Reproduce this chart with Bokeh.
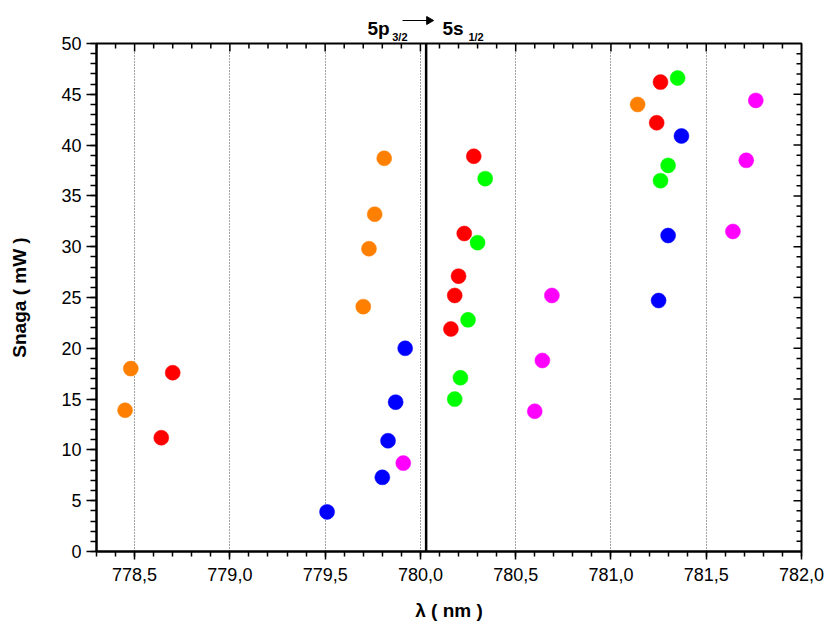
import math
from bokeh.plotting import figure
from bokeh.layouts import column
from bokeh.models import Range1d, FixedTicker, Span, CustomJSTickFormatter
from bokeh.core.properties import value
from bokeh.embed import file_html
from bokeh.resources import INLINE

# ---- data ----
orange_x = [778.45, 778.48, 779.70, 779.73, 779.76, 779.81, 781.14]
orange_y = [13.9, 18.0, 24.1, 29.8, 33.2, 38.7, 44.0]
red_x = [778.64, 778.70, 780.16, 780.18, 780.20, 780.23, 780.28, 781.24, 781.26]
red_y = [11.2, 17.6, 21.9, 25.2, 27.1, 31.3, 38.9, 42.2, 46.2]
green_x = [780.18, 780.21, 780.25, 780.30, 780.34, 781.26, 781.30, 781.35]
green_y = [15.0, 17.1, 22.8, 30.4, 36.7, 36.5, 38.0, 46.6]
blue_x = [779.51, 779.80, 779.83, 779.87, 779.92, 781.25, 781.30, 781.37]
blue_y = [3.9, 7.3, 10.9, 14.7, 20.0, 24.7, 31.1, 40.9]
magenta_x = [779.91, 780.60, 780.64, 780.69, 781.64, 781.71, 781.76]
magenta_y = [8.7, 13.8, 18.8, 25.2, 31.5, 38.5, 44.4]

x_major = [778.5, 779.0, 779.5, 780.0, 780.5, 781.0, 781.5, 782.0]
y_major = [0, 5, 10, 15, 20, 25, 30, 35, 40, 45, 50]
x_minor = [round(778.3 + 0.1 * i, 1) for i in range(38)]
y_minor = list(range(0, 51))
transition_line = 780.03

title_main = ["5p", "5s"]
title_sub = ["3/2", "1/2"]

FONT = "Liberation Sans"
XMIN, XMAX, YMIN, YMAX = 778.3, 782.0, 0, 50

# ---- main plot ----
p = figure(width=829, height=595, output_backend="svg", toolbar_location=None,
           title=None, x_range=Range1d(XMIN, XMAX), y_range=Range1d(YMIN, YMAX),
           min_border_left=96, min_border_right=28, min_border_top=12,
           min_border_bottom=75, x_axis_label="λ ( nm )", y_axis_label="Snaga ( mW )")
p.margin = (-12, 0, 0, 0)
p.border_fill_color = None
p.background_fill_color = "white"
p.outline_line_color = "black"
p.outline_line_width = 2

ax = p.xaxis[0]
ax.ticker = FixedTicker(ticks=x_major, minor_ticks=x_minor)
ax.formatter = CustomJSTickFormatter(code="return tick.toFixed(1).replace('.', ',');")
ay = p.yaxis[0]
ay.ticker = FixedTicker(ticks=y_major, minor_ticks=y_minor)

for a in (ax, ay):
    a.axis_line_width = 2
    a.major_tick_line_width = 1.5
    a.minor_tick_line_width = 1.5
    a.major_tick_in = 0
    a.minor_tick_in = 0
    a.major_label_text_font = FONT
    a.major_label_text_font_size = "18px"
    a.major_label_text_color = "black"
    a.axis_label_text_font = FONT
    a.axis_label_text_font_size = "19px"
    a.axis_label_text_font_style = "bold"
    a.axis_label_text_color = "black"
ax.major_tick_out = 8
ax.minor_tick_out = 5
ax.major_label_standoff = 8
ax.axis_label_standoff = 16
ay.major_tick_out = 10
ay.minor_tick_out = 6
ay.major_label_standoff = 5
ay.axis_label_standoff = 28

p.xgrid.ticker = FixedTicker(ticks=x_major)
p.xgrid.grid_line_color = "#444444"
p.xgrid.grid_line_dash = "1 2"
p.xgrid.grid_line_width = 1
p.ygrid.grid_line_color = None

# inward ticks on the top and right frame edges
px_per_x = (XMAX - XMIN) / 705.0
px_per_y = (YMAX - YMIN) / 508.0
top_major = [t for t in x_major if t < XMAX]
top_minor = [t for t in x_minor if t not in x_major]
p.segment(x0=top_major, y0=[YMAX] * len(top_major), x1=top_major,
          y1=[YMAX - 8 * px_per_y] * len(top_major), line_color="black", line_width=1.5)
p.segment(x0=top_minor, y0=[YMAX] * len(top_minor), x1=top_minor,
          y1=[YMAX - 5 * px_per_y] * len(top_minor), line_color="black", line_width=1.5)
right_major = [t for t in y_major if 0 < t < YMAX]
right_minor = [t for t in y_minor if t not in y_major]
p.segment(x0=[XMAX] * len(right_major), y0=right_major, x1=[XMAX - 8 * px_per_x] * len(right_major),
          y1=right_major, line_color="black", line_width=1.5)
p.segment(x0=[XMAX] * len(right_minor), y0=right_minor, x1=[XMAX - 5 * px_per_x] * len(right_minor),
          y1=right_minor, line_color="black", line_width=1.5)

p.add_layout(Span(location=transition_line, dimension="height",
                  line_color="black", line_width=2.5))

for xs, ys, c in [(orange_x, orange_y, "#FF8000"), (red_x, red_y, "#FF0000"),
                  (green_x, green_y, "#00FF00"), (blue_x, blue_y, "#0000FF"),
                  (magenta_x, magenta_y, "#FF00FF")]:
    p.scatter(xs, ys, size=15, fill_color=c, line_color=c, line_width=0.5)

# ---- title strip: 5p_{3/2} -> 5s_{1/2} ----
t = figure(width=829, height=43, output_backend="svg", toolbar_location=None,
           title=None, x_range=p.x_range, y_range=Range1d(0, 43),
           min_border_left=96, min_border_right=28, min_border_top=0, min_border_bottom=0,
           x_axis_type=None, y_axis_type=None)
t.outline_line_color = None
t.xgrid.grid_line_color = None
t.ygrid.grid_line_color = None

t.text(x=[779.722, 780.116], y=[15, 15], text=title_main, text_font=value(FONT),
       text_font_size="19px", text_font_style="bold", text_baseline="alphabetic",
       text_align="left", text_color="black")
t.text(x=[779.852, 780.252], y=[7, 7], text=title_sub, text_font=value(FONT),
       text_font_size="11px", text_font_style="bold", text_baseline="alphabetic",
       text_align="left", text_color="black")
t.segment(x0=[779.906], y0=[23], x1=[780.045], y1=[23], line_color="black", line_width=1.2)
t.scatter(x=[780.045], y=[23], marker="triangle", size=8, angle=-math.pi / 2,
          fill_color="black", line_color="black")

layout = column(t, p, spacing=0)
open("out.html", "w").write(file_html(layout, INLINE))
